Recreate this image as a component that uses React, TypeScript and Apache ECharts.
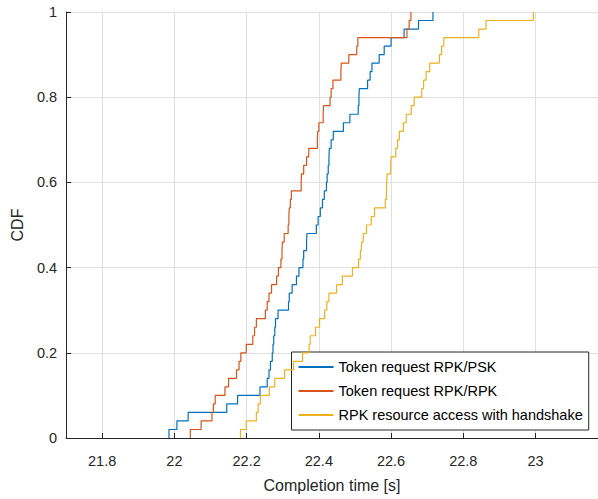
import React, { useEffect, useRef } from "react";
import * as echarts from "echarts";

// Sorted completion-time samples (s) (50 runs each)
const tokenRpkPsk = [
  21.985, 22.007, 22.038, 22.145, 22.175, 22.237, 22.257, 22.262, 22.266, 22.271,
  22.273, 22.275, 22.278, 22.28, 22.287, 22.316, 22.318, 22.326, 22.338, 22.345,
  22.356, 22.358, 22.366, 22.367, 22.393, 22.398, 22.404, 22.41, 22.415, 22.421,
  22.423, 22.426, 22.428, 22.429, 22.434, 22.44, 22.468, 22.486, 22.509, 22.511,
  22.512, 22.535, 22.542, 22.547, 22.567, 22.581, 22.6, 22.636, 22.676, 22.716,
];
const tokenRpkRpk = [
  22.044, 22.074, 22.104, 22.108, 22.113, 22.14, 22.15, 22.172, 22.179, 22.184,
  22.199, 22.217, 22.222, 22.227, 22.252, 22.257, 22.262, 22.269, 22.283, 22.288,
  22.295, 22.298, 22.299, 22.304, 22.315, 22.317, 22.318, 22.321, 22.324, 22.351,
  22.352, 22.358, 22.366, 22.372, 22.396, 22.397, 22.4, 22.412, 22.413, 22.431,
  22.434, 22.439, 22.461, 22.462, 22.483, 22.505, 22.508, 22.644, 22.65, 22.655,
];
const rpkResourceHandshake = [
  22.183, 22.199, 22.227, 22.232, 22.238, 22.263, 22.278, 22.305, 22.33, 22.355,
  22.373, 22.376, 22.391, 22.402, 22.416, 22.422, 22.428, 22.449, 22.465, 22.493,
  22.51, 22.515, 22.518, 22.523, 22.532, 22.545, 22.554, 22.584, 22.587, 22.588,
  22.589, 22.599, 22.6, 22.613, 22.618, 22.623, 22.634, 22.642, 22.656, 22.664,
  22.685, 22.69, 22.697, 22.707, 22.734, 22.74, 22.746, 22.843, 22.863, 22.994,
];

const seriesNames = [
  "Token request RPK/PSK",
  "Token request RPK/RPK",
  "RPK resource access with handshake",
];
const seriesColors = ["#0072BD", "#D95319", "#EDB120"];
const xTicks = [21.8, 22, 22.2, 22.4, 22.6, 22.8, 23];
const xRange = [21.7, 23.173];
const yTicks = [0, 0.2, 0.4, 0.6, 0.8, 1];

function cdfSteps(samples: number[]): number[][] {
  const sorted = [...samples].sort((a, b) => a - b);
  const n = sorted.length;
  const pts: number[][] = [];
  sorted.forEach((t, i) => {
    pts.push([t, i / n]);
    pts.push([t, (i + 1) / n]);
  });
  return pts;
}

const FONT = "'Liberation Sans', Arial, Helvetica, sans-serif";
const AX = "#262626";

export default function App() {
  const ref = useRef<HTMLDivElement>(null);
  useEffect(() => {
    if (!ref.current) return;
    const chart = echarts.init(ref.current, undefined, { renderer: "svg" });
    const datasets = [tokenRpkPsk, tokenRpkRpk, rpkResourceHandshake];
    chart.setOption({
      animation: false,
      backgroundColor: "#ffffff",
      textStyle: { fontFamily: FONT },
      grid: { left: 64, top: 12, right: 0, bottom: 58.3, containLabel: false },
      legend: {
        orient: "vertical",
        left: 291.5,
        top: 352,
        padding: [7, 6, 7, 6],
        itemGap: 8,
        itemWidth: 35,
        itemHeight: 14,
        backgroundColor: "#ffffff",
        borderColor: AX,
        borderWidth: 1,
        borderRadius: 0,
        itemStyle: { opacity: 0, color: "transparent", borderWidth: 0 },
        textStyle: { fontFamily: FONT, fontSize: 14.5, lineHeight: 16, color: "#000" },
        data: seriesNames,
      },
      xAxis: {
        type: "value",
        min: xRange[0],
        max: xRange[1],
        name: "Completion time [s]",
        nameLocation: "middle",
        nameGap: 38,
        nameTextStyle: { fontFamily: FONT, fontSize: 16, color: AX, lineHeight: 18 },
        axisLine: { show: true, onZero: false, lineStyle: { color: AX, width: 1 } },
        axisTick: { show: true, inside: true, length: 5, customValues: xTicks, lineStyle: { color: AX } },
        axisLabel: {
          customValues: xTicks,
          margin: 15,
          fontFamily: FONT,
          fontSize: 14.5,
          lineHeight: 16,
          color: AX,
          formatter: (v: number) => String(Math.round(v * 10) / 10),
        },
        splitLine: { show: true, lineStyle: { color: "#e0e0e0", width: 1 } },
      },
      yAxis: {
        type: "value",
        min: yTicks[0],
        max: yTicks[yTicks.length - 1],
        interval: 0.2,
        name: "CDF",
        nameLocation: "middle",
        nameGap: 28,
        nameTextStyle: { fontFamily: FONT, fontSize: 16, color: AX, lineHeight: 18 },
        axisLine: { show: true, onZero: false, lineStyle: { color: AX, width: 1 } },
        axisTick: { show: true, inside: true, length: 5, lineStyle: { color: AX } },
        axisLabel: {
          margin: 9,
          fontFamily: FONT,
          fontSize: 14.5,
          color: AX,
          formatter: (v: number) => String(Math.round(v * 10) / 10),
        },
        splitLine: { show: true, lineStyle: { color: "#e0e0e0", width: 1 } },
      },
      series: datasets.map((d, i) => ({
        name: seriesNames[i],
        type: "line",
        data: cdfSteps(d),
        symbol: "none",
        showSymbol: false,
        color: seriesColors[i],
        lineStyle: { color: seriesColors[i], width: 1.2 },
        z: 2 + i,
      })),
    });
    return () => chart.dispose();
  }, []);
  return (
    <div
      ref={ref}
      style={{ position: "fixed", left: 0, top: 0, width: 598, height: 499 }}
    />
  );
}
